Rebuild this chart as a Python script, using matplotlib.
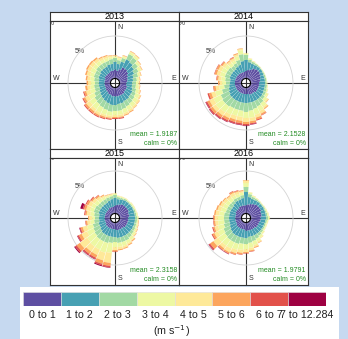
import numpy as np
import matplotlib
matplotlib.use("Agg")
import matplotlib.pyplot as plt
from matplotlib.patches import Rectangle

plt.rcParams['font.family'] = ['Liberation Sans', 'DejaVu Sans']

years = ['2013', '2014', '2015', '2016']
mean_speed = ['1.9187', '2.1528', '2.3158', '1.9791']
calm = ['0%', '0%', '0%', '0%']
speed_labels = ['0 to 1', '1 to 2', '2 to 3', '3 to 4', '4 to 5', '5 to 6', '6 to 7', '7 to 12.284']
directions = list(range(0, 360, 10))

# frequency (%) per direction (rows: 0, 10, ... 350 deg), columns: speed bins
freq_2013 = [
    [1.05, 0.91, 0.45, 0.18, 0.12, 0.06, 0, 0],
    [0.94, 0.79, 0.45, 0.24, 0.12, 0.06, 0, 0],
    [1.17, 0.91, 0.45, 0.18, 0.12, 0.06, 0, 0],
    [1.51, 1.04, 0.69, 0.24, 0.12, 0.06, 0, 0],
    [1.51, 0.92, 0.69, 0.29, 0.12, 0.06, 0, 0],
    [1.39, 0.81, 0.57, 0.29, 0.12, 0.06, 0, 0],
    [1.17, 0.79, 0.57, 0.35, 0.12, 0.06, 0, 0],
    [1.05, 0.67, 0.57, 0.24, 0.12, 0.06, 0, 0],
    [0.94, 0.67, 0.45, 0.24, 0.12, 0.06, 0, 0],
    [0.82, 0.67, 0.45, 0.29, 0.12, 0.06, 0, 0],
    [0.82, 0.67, 0.45, 0.35, 0.12, 0.06, 0, 0],
    [0.94, 0.67, 0.45, 0.35, 0.18, 0.06, 0, 0],
    [0.94, 0.79, 0.45, 0.47, 0.18, 0.06, 0, 0],
    [0.94, 0.79, 0.57, 0.47, 0.24, 0.06, 0, 0],
    [1.05, 0.79, 0.57, 0.47, 0.24, 0.06, 0, 0],
    [1.05, 0.79, 0.69, 0.47, 0.24, 0.12, 0, 0],
    [1.05, 0.91, 0.69, 0.47, 0.24, 0.12, 0, 0],
    [1.05, 0.91, 0.81, 0.47, 0.24, 0.12, 0.12, 0],
    [1.05, 1.02, 0.69, 0.47, 0.24, 0.12, 0.12, 0],
    [1.05, 1.02, 0.81, 0.47, 0.24, 0.12, 0.12, 0],
    [0.94, 1.02, 0.81, 0.59, 0.24, 0.18, 0.12, 0],
    [0.94, 0.91, 0.81, 0.71, 0.29, 0.18, 0.12, 0],
    [0.82, 0.91, 0.81, 0.71, 0.35, 0.24, 0.12, 0],
    [0.82, 0.79, 0.81, 0.71, 0.47, 0.24, 0.12, 0],
    [0.70, 0.79, 0.69, 0.71, 0.47, 0.24, 0.12, 0],
    [0.70, 0.67, 0.57, 0.59, 0.47, 0.24, 0.12, 0],
    [0.70, 0.67, 0.57, 0.47, 0.35, 0.24, 0, 0],
    [0.70, 0.67, 0.45, 0.47, 0.35, 0.18, 0, 0],
    [0.70, 0.67, 0.57, 0.47, 0.35, 0.18, 0, 0],
    [0.70, 0.79, 0.57, 0.47, 0.41, 0.18, 0, 0],
    [0.82, 0.67, 0.57, 0.59, 0.41, 0.18, 0, 0],
    [0.82, 0.79, 0.57, 0.47, 0.41, 0.18, 0, 0],
    [0.82, 0.79, 0.57, 0.47, 0.35, 0.18, 0, 0],
    [0.82, 0.79, 0.57, 0.35, 0.29, 0.12, 0, 0],
    [0.94, 0.79, 0.45, 0.35, 0.24, 0.12, 0, 0],
    [0.94, 0.79, 0.57, 0.24, 0.18, 0.06, 0, 0],
]

freq_2014 = [
    [0.90, 1.28, 0.59, 0.18, 0.06, 0, 0, 0],
    [1.02, 0.92, 0.29, 0.12, 0.06, 0, 0, 0],
    [1.14, 0.69, 0.24, 0.06, 0.06, 0, 0, 0],
    [1.37, 0.45, 0.18, 0.06, 0, 0, 0, 0],
    [1.49, 0.34, 0.12, 0.04, 0.02, 0, 0, 0],
    [1.49, 0.34, 0.06, 0.06, 0, 0, 0, 0],
    [1.37, 0.39, 0.12, 0.06, 0, 0, 0, 0],
    [1.25, 0.45, 0.18, 0.06, 0, 0, 0, 0],
    [1.14, 0.57, 0.18, 0.06, 0, 0, 0, 0],
    [1.02, 0.69, 0.18, 0.06, 0.04, 0, 0, 0],
    [1.02, 0.69, 0.24, 0.06, 0.06, 0, 0, 0],
    [1.02, 0.69, 0.29, 0.12, 0.06, 0, 0, 0],
    [1.02, 0.75, 0.29, 0.24, 0.12, 0, 0, 0],
    [1.02, 0.81, 0.35, 0.35, 0.18, 0.06, 0, 0],
    [0.90, 0.92, 0.59, 0.47, 0.24, 0.12, 0, 0],
    [0.90, 0.92, 0.71, 0.59, 0.35, 0.18, 0.06, 0],
    [0.90, 0.92, 0.82, 0.71, 0.35, 0.24, 0.12, 0],
    [0.78, 1.04, 0.94, 0.82, 0.41, 0.24, 0.12, 0.06],
    [0.78, 1.04, 1.06, 0.71, 0.47, 0.24, 0.18, 0.06],
    [0.78, 1.04, 0.94, 0.71, 0.47, 0.29, 0.18, 0.06],
    [0.78, 1.04, 0.94, 0.71, 0.47, 0.29, 0.18, 0.06],
    [0.78, 1.04, 0.94, 0.82, 0.47, 0.29, 0.18, 0.06],
    [0.78, 1.04, 1.06, 0.82, 0.47, 0.29, 0.18, 0.06],
    [0.78, 1.04, 1.06, 0.94, 0.47, 0.29, 0.18, 0.06],
    [0.78, 0.92, 1.06, 0.94, 0.53, 0.29, 0.18, 0.06],
    [0.78, 0.81, 0.82, 0.82, 0.47, 0.29, 0.18, 0],
    [0.78, 0.69, 0.59, 0.59, 0.41, 0.24, 0.06, 0],
    [0.78, 0.57, 0.47, 0.47, 0.29, 0.18, 0, 0],
    [0.78, 0.57, 0.59, 0.47, 0.35, 0.18, 0.06, 0],
    [0.78, 0.69, 0.59, 0.59, 0.41, 0.24, 0.06, 0],
    [0.78, 0.69, 0.59, 0.59, 0.41, 0.24, 0.06, 0],
    [0.78, 0.69, 0.59, 0.47, 0.35, 0.18, 0.06, 0],
    [0.78, 0.69, 0.47, 0.41, 0.29, 0.12, 0, 0],
    [0.78, 0.81, 0.47, 0.35, 0.29, 0.12, 0.06, 0],
    [0.78, 0.92, 0.59, 0.47, 0.24, 0.12, 0, 0],
    [0.78, 1.28, 0.82, 0.47, 0.18, 0.06, 0, 0],
]

freq_2015 = [
    [0.92, 0.91, 0.35, 0.18, 0.06, 0, 0, 0],
    [1.04, 0.67, 0.24, 0.12, 0.06, 0, 0, 0],
    [1.15, 0.61, 0.18, 0.12, 0.06, 0, 0, 0],
    [1.27, 0.55, 0.18, 0.06, 0.06, 0, 0, 0],
    [1.27, 0.55, 0.12, 0.06, 0.06, 0, 0, 0],
    [1.27, 0.55, 0.12, 0.12, 0.06, 0, 0, 0],
    [1.27, 0.55, 0.12, 0.12, 0.06, 0, 0, 0],
    [1.15, 0.67, 0.18, 0.06, 0.06, 0, 0, 0],
    [1.15, 0.67, 0.18, 0.12, 0.06, 0, 0, 0],
    [1.04, 0.79, 0.24, 0.12, 0.06, 0, 0, 0],
    [1.04, 0.79, 0.24, 0.12, 0.06, 0.06, 0, 0],
    [1.04, 0.79, 0.24, 0.18, 0.06, 0.06, 0, 0],
    [1.04, 0.79, 0.29, 0.18, 0.12, 0.06, 0, 0],
    [1.04, 0.79, 0.35, 0.24, 0.12, 0.06, 0, 0],
    [0.92, 0.91, 0.47, 0.35, 0.12, 0.12, 0, 0],
    [0.92, 0.91, 0.59, 0.35, 0.18, 0.12, 0, 0],
    [0.92, 0.91, 0.59, 0.47, 0.24, 0.12, 0, 0],
    [0.92, 0.91, 0.59, 0.47, 0.29, 0.12, 0, 0],
    [0.80, 0.91, 0.59, 0.59, 0.35, 0.18, 0.06, 0],
    [0.80, 0.91, 0.71, 1.18, 1.18, 0.35, 0.18, 0.06],
    [0.80, 0.91, 0.82, 1.18, 0.94, 0.41, 0.18, 0.12],
    [0.80, 0.91, 0.82, 1.06, 0.71, 0.35, 0.18, 0.06],
    [0.80, 0.91, 0.82, 1.06, 0.71, 0.35, 0.18, 0.06],
    [0.80, 0.79, 0.82, 1.06, 1.06, 0.47, 0.24, 0.12],
    [0.68, 0.79, 0.82, 0.82, 0.71, 0.35, 0.18, 0.06],
    [0.68, 0.79, 0.71, 0.71, 0.53, 0.24, 0.12, 0.06],
    [0.68, 0.67, 0.59, 0.47, 0.35, 0.18, 0.06, 0],
    [0.68, 0.67, 0.47, 0.35, 0.35, 0.12, 0, 0],
    [0.68, 0.67, 0.59, 0.47, 0.41, 0.18, 0.12, 0],
    [0.68, 0.79, 0.59, 0.47, 0.47, 0.24, 0.18, 0.29],
    [0.68, 0.79, 0.59, 0.47, 0.41, 0.24, 0.12, 0],
    [0.68, 0.79, 0.47, 0.47, 0.35, 0.18, 0.12, 0],
    [0.68, 0.79, 0.47, 0.35, 0.29, 0.18, 0.06, 0],
    [0.80, 0.67, 0.47, 0.29, 0.18, 0.12, 0, 0],
    [0.80, 0.79, 0.41, 0.18, 0.12, 0.06, 0, 0],
    [0.80, 0.91, 0.35, 0.18, 0.06, 0.06, 0, 0],
]

freq_2016 = [
    [0.97, 1.56, 0.59, 0.47, 0.29, 0.06, 0, 0],
    [1.09, 0.86, 0.35, 0.18, 0.06, 0, 0, 0],
    [1.20, 0.62, 0.24, 0.12, 0.06, 0, 0, 0],
    [1.32, 0.50, 0.18, 0.06, 0.06, 0, 0, 0],
    [1.44, 0.39, 0.12, 0.06, 0.04, 0, 0, 0],
    [1.44, 0.39, 0.09, 0.05, 0.04, 0, 0, 0],
    [1.44, 0.39, 0.12, 0.06, 0.04, 0, 0, 0],
    [1.32, 0.50, 0.12, 0.12, 0.04, 0, 0, 0],
    [1.32, 0.50, 0.18, 0.12, 0.06, 0, 0, 0],
    [1.20, 0.62, 0.24, 0.18, 0.06, 0, 0, 0],
    [1.20, 0.56, 0.18, 0.12, 0.06, 0, 0, 0],
    [1.09, 0.62, 0.18, 0.12, 0.06, 0, 0, 0],
    [1.09, 0.62, 0.18, 0.12, 0.06, 0, 0, 0],
    [1.09, 0.62, 0.24, 0.18, 0.06, 0, 0, 0],
    [0.97, 0.74, 0.35, 0.24, 0.12, 0, 0, 0],
    [0.97, 0.74, 0.47, 0.35, 0.18, 0.06, 0, 0],
    [0.97, 0.74, 0.59, 0.47, 0.24, 0.12, 0, 0],
    [0.97, 0.74, 0.71, 0.59, 0.29, 0.12, 0.06, 0],
    [0.97, 0.86, 0.71, 0.59, 0.35, 0.12, 0.06, 0],
    [0.85, 0.97, 0.71, 0.71, 0.35, 0.18, 0.06, 0],
    [0.85, 0.97, 0.82, 0.71, 0.41, 0.18, 0.06, 0],
    [0.85, 0.97, 0.82, 0.82, 0.47, 0.18, 0.06, 0.04],
    [0.85, 0.97, 0.82, 0.82, 0.41, 0.24, 0.06, 0.04],
    [0.85, 0.86, 0.82, 0.94, 0.71, 0.47, 0.18, 0.06],
    [0.73, 0.86, 0.82, 0.71, 0.47, 0.24, 0.12, 0],
    [0.73, 0.74, 0.71, 0.71, 0.41, 0.18, 0.12, 0],
    [0.73, 0.74, 0.59, 0.71, 0.35, 0.18, 0.06, 0],
    [0.73, 0.74, 0.59, 0.71, 0.35, 0.18, 0.06, 0],
    [0.73, 0.74, 0.59, 0.59, 0.41, 0.18, 0, 0],
    [0.73, 0.74, 0.47, 0.59, 0.41, 0.18, 0, 0],
    [0.85, 0.62, 0.47, 0.53, 0.35, 0.18, 0, 0],
    [0.85, 0.62, 0.47, 0.47, 0.35, 0.12, 0, 0],
    [0.85, 0.74, 0.35, 0.41, 0.29, 0.12, 0, 0],
    [0.97, 0.74, 0.35, 0.35, 0.35, 0.18, 0.06, 0],
    [0.97, 0.74, 0.35, 0.35, 0.29, 0.12, 0.06, 0],
    [0.97, 0.86, 0.35, 0.29, 0.18, 0.12, 0, 0],
]

all_freq = [freq_2013, freq_2014, freq_2015, freq_2016]

W, H = 348, 339
S = 8.5          # pixels per percent
hole = 0.53      # calm hole (percent units)
colors = plt.cm.Spectral_r(np.linspace(0, 1, 8))
line_col = '#333333'
bg_col = '#c6d9f0'

fig = plt.figure(figsize=(W / 100, H / 100), dpi=100, facecolor=bg_col)

# white box behind the key
fig.add_artist(Rectangle((20 / W, 0), 319 / W, 52 / H, transform=fig.transFigure,
                         facecolor='white', edgecolor='none', zorder=-5))

col_x = [(50, 179), (179, 308)]
row_y = [(12, 21, 149), (149, 158, 285)]
centers_x = [115, 246]
centers_y = [83, 218]


def fig_rect(x0, y0, x1, y1):
    return [x0 / W, 1 - y1 / H, (x1 - x0) / W, (y1 - y0) / H]


theta = np.deg2rad(directions)

for i, year in enumerate(years):
    c, r = i % 2, i // 2
    x0, x1 = col_x[c]
    st, top, bot = row_y[r]
    cx, cy = centers_x[c], centers_y[r]

    # strip
    sax = fig.add_axes(fig_rect(x0, st, x1, top))
    sax.set_facecolor('white')
    sax.set_xticks([])
    sax.set_yticks([])
    for sp in sax.spines.values():
        sp.set_color(line_col)
        sp.set_linewidth(0.8)
    sax.text(0.5, 0.45, year, ha='center', va='center', fontsize=6.5,
             transform=sax.transAxes)

    # panel with axis cross and labels
    ax = fig.add_axes(fig_rect(x0, top, x1, bot))
    ax.set_facecolor('white')
    xl, xr = (x0 - cx) / S, (x1 - cx) / S
    yb, yt = (cy - bot) / S, (cy - top) / S
    ax.set_xlim(xl, xr)
    ax.set_ylim(yb, yt)
    ax.set_xticks([])
    ax.set_yticks([])
    for sp in ax.spines.values():
        sp.set_color(line_col)
        sp.set_linewidth(0.8)
    ax.axhline(0, color=line_col, lw=0.8)
    ax.axvline(0, color=line_col, lw=0.8)
    ax.text(0.3, yt - 0.75, 'N', ha='left', va='center', fontsize=5, color=line_col)
    ax.text(0.3, yb + 0.75, 'S', ha='left', va='center', fontsize=5, color=line_col)
    ax.text(xr - 0.3, 0.15, 'E', ha='right', va='bottom', fontsize=5, color=line_col)
    ax.text(xl + 0.3, 0.15, 'W', ha='left', va='bottom', fontsize=5, color=line_col)
    ang = np.deg2rad(311.5)
    ax.text((5 + hole) * np.sin(ang), (5 + hole) * np.cos(ang), '5%',
            ha='center', va='center', fontsize=5, color=line_col)
    ax.text((10 + hole) * np.sin(ang), (10 + hole) * np.cos(ang), '10%',
            ha='center', va='center', fontsize=5, color=line_col, clip_on=True)
    ax.text(xr - 0.25, yb + 1.75, 'mean = ' + mean_speed[i], ha='right', va='center',
            fontsize=5, color='forestgreen')
    ax.text(xr - 0.25, yb + 0.6, 'calm = ' + calm[i], ha='right', va='center',
            fontsize=5, color='forestgreen')

    # rose
    h = 60
    pax = fig.add_axes(fig_rect(cx - h, cy - h, cx + h, cy + h), projection='polar')
    pax.set_theta_zero_location('N')
    pax.set_theta_direction(-1)
    pax.set_rorigin(-hole)
    pax.set_ylim(0, h / S - hole)
    pax.patch.set_alpha(0)
    pax.spines['polar'].set_visible(False)
    pax.set_xticks([])
    pax.set_rticks([5])
    pax.set_yticklabels([])
    pax.set_axisbelow(True)
    pax.grid(True, color='#d4d4d4', lw=0.6)

    freq = np.array(all_freq[i])
    base = np.zeros(len(directions))
    for k in range(len(speed_labels)):
        pax.bar(theta, freq[:, k], bottom=base, width=np.deg2rad(9.4),
                color=colors[k], linewidth=0)
        base = base + freq[:, k]

# key
lax = fig.add_axes(fig_rect(23, 292, 326, 306))
lax.bar(range(len(speed_labels)), np.ones(len(speed_labels)), width=1,
        color=colors, edgecolor='#e0e0e0', linewidth=0.4)
lax.set_xlim(-0.5, len(speed_labels) - 0.5)
lax.set_ylim(0, 1)
lax.set_yticks([])
lax.set_xticks(range(len(speed_labels)))
lax.set_xticklabels(speed_labels, fontsize=7.7, color='#222222')
lax.tick_params(axis='x', length=0, pad=3)
for sp in lax.spines.values():
    sp.set_visible(False)
fig.text(172 / W, 1 - 331 / H, r'(m s$^{-1}$)', ha='center', va='center',
         fontsize=7.7, color='#222222')

fig.savefig('out.png', dpi=100, facecolor=bg_col)
